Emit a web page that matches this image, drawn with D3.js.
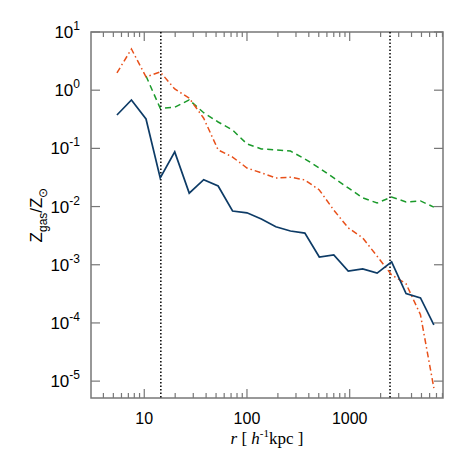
<!DOCTYPE html>
<html><head><meta charset="utf-8">
<script src="https://cdn.jsdelivr.net/npm/d3@7"></script>
<style>body{margin:0;background:#fff}</style></head><body>
<svg id="c" width="463" height="463"></svg>
<script>
const radii=[5.42,7.5,10.4,14.3,19.8,27.4,37.9,52.4,72.4,100,138,191,265,366,506,700,968,1338,1850,2560,3540,4890,6600];
const blue=[0.375,0.68,0.32,0.031,0.087,0.017,0.029,0.0226,0.0084,0.0078,0.0061,0.0045,0.0038,0.0035,0.00136,0.00147,0.00078,0.00085,0.00072,0.00112,0.00032,0.00027,0.000093];
const orange=[1.98,5.1,1.69,2.06,1.05,0.73,0.33,0.094,0.071,0.046,0.038,0.031,0.032,0.0286,0.0193,0.0087,0.0043,0.0029,0.0014,0.00067,0.00047,0.000138,0.0000076];
const green=[null,null,1.75,0.49,0.51,0.68,0.41,0.284,0.207,0.119,0.098,0.094,0.090,0.066,0.046,0.031,0.0209,0.0141,0.0115,0.0146,0.012,0.0125,0.0098];
const vlines=[14.5,2470];
const yTicks=[1e1,1e0,1e-1,1e-2,1e-3,1e-4,1e-5];
const xTicks=[10,100,1000];

const svg=d3.select("#c");
const L=91,R=443,T=32,B=398;
const x=d3.scaleLog().domain([3.03,8100]).range([L,R]);
const y=d3.scaleLog().domain([10**-5.29,10]).range([B,T]);
const ax="#777";
// minor ticks
const xminor=[];for(let d=1;d<=1000;d*=10)for(let k=1;k<=9;k++){const v=k*d;if(v>=3.03&&v<=8100)xminor.push(v);}
xminor.forEach(v=>{const major=xTicks.includes(v);const len=major?9:5;
 [[B,B-len],[T,T+len]].forEach(([a,b])=>svg.append("line").attr("x1",x(v)).attr("x2",x(v)).attr("y1",a).attr("y2",b).attr("stroke",ax).attr("stroke-width",1.2));});
yTicks.forEach(v=>{[[L,L+9],[R,R-9]].forEach(([a,b])=>svg.append("line").attr("y1",y(v)).attr("y2",y(v)).attr("x1",a).attr("x2",b).attr("stroke",ax).attr("stroke-width",1.2));});
svg.append("rect").attr("x",L).attr("y",T).attr("width",R-L).attr("height",B-T).attr("fill","none").attr("stroke",ax).attr("stroke-width",1.5);
xTicks.forEach(v=>svg.append("text").attr("x",x(v)).attr("y",424).attr("text-anchor","middle").attr("font-family","Liberation Sans, Arial").attr("font-size",16).text(v));
yTicks.forEach(v=>{const e=Math.round(Math.log10(v));const t=svg.append("text").attr("x",80).attr("y",y(v)+6).attr("text-anchor","end").attr("font-family","Liberation Sans, Arial").attr("font-size",17);
 t.append("tspan").text("10");t.append("tspan").attr("dy",-8).attr("font-size",12).text(e);});
// vertical dotted
vlines.forEach(v=>svg.append("line").attr("x1",x(v)).attr("x2",x(v)).attr("y1",T).attr("y2",B).attr("stroke","#000").attr("stroke-width",1.5).attr("stroke-dasharray","1.5,2"));
const line=d3.line().defined(d=>d[1]!=null).x(d=>x(d[0])).y(d=>y(d[1]));
const mk=a=>radii.map((r,i)=>[r,a[i]]);
svg.append("path").attr("d",line(mk(green))).attr("fill","none").attr("stroke","#1a9a2a").attr("stroke-width",1.5).attr("stroke-dasharray","6,4");
svg.append("path").attr("d",line(mk(orange))).attr("fill","none").attr("stroke","#e8501a").attr("stroke-width",1.5).attr("stroke-dasharray","6,3,1.5,3");
svg.append("path").attr("d",line(mk(blue))).attr("fill","none").attr("stroke","#0d3b66").attr("stroke-width",1.7);
// labels
const xl=svg.append("text").attr("x",267).attr("y",444).attr("text-anchor","middle").attr("font-family","Liberation Serif, Times").attr("font-size",17);
xl.append("tspan").attr("font-style","italic").text("r");
xl.append("tspan").text("  [ ");
xl.append("tspan").attr("font-style","italic").text("h");
xl.append("tspan").attr("dy",-7).attr("font-size",11).text("-1");
xl.append("tspan").attr("dy",7).text("kpc ]");
const yl=svg.append("text").attr("transform","translate(42,215) rotate(-90)").attr("text-anchor","middle").attr("font-family","Liberation Sans, Arial").attr("font-size",17);
yl.append("tspan").text("Z");
yl.append("tspan").attr("dy",5).attr("font-size",12).text("gas");
yl.append("tspan").attr("dy",-5).text("/Z");
yl.append("tspan").attr("dy",5).attr("font-size",12).text("⊙");
</script></body></html>
